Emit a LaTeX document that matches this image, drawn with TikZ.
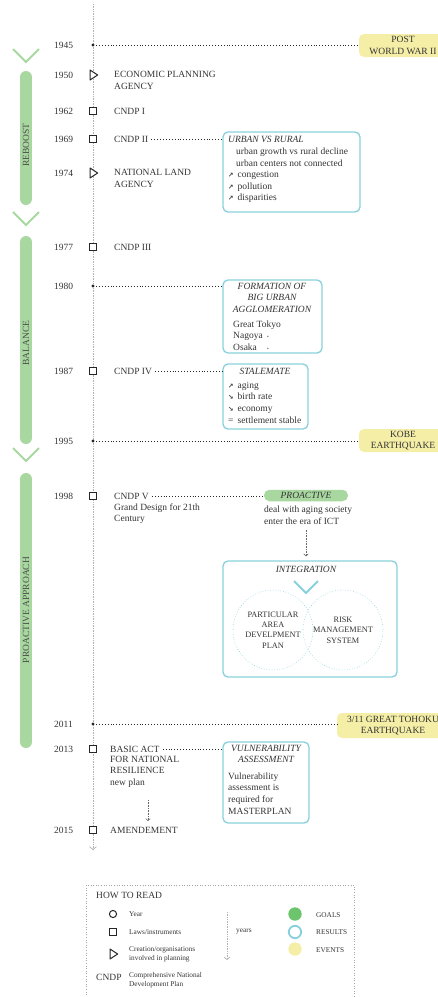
\documentclass[tikz,border=0pt]{standalone}
\usepackage{fontspec}
\setmainfont{Liberation Serif}
\newfontfamily\arrowfont{DejaVu Sans}
\usetikzlibrary{arrows.meta}

\definecolor{phasegreen}{HTML}{A8D8A0}
\definecolor{goaldark}{HTML}{6CC46C}
\definecolor{resteal}{HTML}{88D1DC}
\definecolor{evtyellow}{HTML}{F4EEA6}
\definecolor{txtgray}{HTML}{333333}

\newcommand{\arrup}{\makebox[9.5pt][l]{\arrowfont\bfseries\fontsize{6.5}{7}\selectfont ↗}}
\newcommand{\arrdown}{\makebox[9.5pt][l]{\arrowfont\bfseries\fontsize{6.5}{7}\selectfont ↘}}
\newcommand{\smalldot}{{\fontsize{5}{5}\selectfont\textbullet}}

\begin{document}
\begin{tikzpicture}[x=1pt, y=-1pt, font=\fontsize{9.5}{11.6}\selectfont, text=txtgray,
    tline/.style={draw=black!30, densely dotted, line width=0.7pt},
    lead/.style={draw=black!85, dotted, line width=0.9pt, shorten <=3pt},
    leadtip/.style={draw=black!60, densely dotted, line width=0.6pt, -{Straight Barb[length=2pt,width=4.5pt]}},
    yearlbl/.style={anchor=west, inner sep=0pt},
    item/.style={anchor=west, inner sep=0pt, align=left},
    lawmark/.style={draw=black!85, fill=white, line width=1pt, minimum size=7.5pt, inner sep=0pt},
    orgmark/.style={draw=black!85, fill=white, line width=1pt, line join=round},
    resbox/.style={draw=resteal, line width=1.3pt, rounded corners=5pt, inner sep=0pt},
    restitle/.style={font=\fontsize{9.5}{11.6}\selectfont\itshape, inner sep=0pt, align=center},
    evtbox/.style={fill=evtyellow, rounded corners=5pt, inner sep=0pt, align=center},
    phasebar/.style={draw=phasegreen, line width=12pt, line cap=round},
    chevron/.style={draw=phasegreen, line width=2pt},
    phaselbl/.style={rotate=90, inner sep=0pt, text=black!70},
    legend/.style={anchor=west, inner sep=0pt, align=left, font=\fontsize{7.3}{9}\selectfont}]
    \useasboundingbox (0,0) rectangle (438,997);

    % time line
    \coordinate (ltop) at (93,4);
    \coordinate (lend) at (93,850);
    \draw[tline, -{Straight Barb[length=3pt,width=7pt]}] (ltop) -- (lend);

    \coordinate (y1945) at (93,45);
    \coordinate (y1950) at (93,75);
    \coordinate (y1962) at (93,111);
    \coordinate (y1969) at (93,139);
    \coordinate (y1974) at (93,173);
    \coordinate (y1977) at (93,247);
    \coordinate (y1980) at (93,286);
    \coordinate (y1987) at (93,371);
    \coordinate (y1995) at (93,441);
    \coordinate (y1998) at (93,496);
    \coordinate (y2011) at (93,724);
    \coordinate (y2013) at (93,749);
    \coordinate (y2015) at (93,830);

    \node[yearlbl] (t1945) at (54,45) {1945};
    \node[yearlbl] (t1950) at (54,75) {1950};
    \node[yearlbl] (t1962) at (54,111) {1962};
    \node[yearlbl] (t1969) at (54,139) {1969};
    \node[yearlbl] (t1974) at (54,173) {1974};
    \node[yearlbl] (t1977) at (54,247) {1977};
    \node[yearlbl] (t1980) at (54,286) {1980};
    \node[yearlbl] (t1987) at (54,371) {1987};
    \node[yearlbl] (t1995) at (54,441) {1995};
    \node[yearlbl] (t1998) at (54,496) {1998};
    \node[yearlbl] (t2011) at (54,724) {2011};
    \node[yearlbl] (t2013) at (54,749) {2013};
    \node[yearlbl] (t2015) at (54,830) {2015};

    % phases
    \draw[chevron] (13,49) -- (26,62) -- (39,49);
    \draw[phasebar] (26,77) -- (26,199);
    \node[phaselbl] (reboost) at (26,145) {REBOOST};
    \draw[chevron] (13,212) -- (26,225) -- (39,212);
    \draw[phasebar] (26,242) -- (26,438);
    \node[phaselbl] (balance) at (26,343) {BALANCE};
    \draw[chevron] (13,448) -- (26,461) -- (39,448);
    \draw[phasebar] (26,479) -- (26,742);
    \node[phaselbl] (proapp) at (26,610) {PROACTIVE APPROACH};

    % events
    \node[evtbox, minimum width=88pt, minimum height=23pt] (ww2) at (403,45.5) {POST\\WORLD WAR II};
    \node[evtbox, minimum width=88pt, minimum height=23pt] (kobe) at (403,440.5) {KOBE\\EARTHQUAKE};
    \node[evtbox, minimum width=112pt, minimum height=25pt] (tohoku) at (393,725.5) {3/11 GREAT TOHOKU\\EARTHQUAKE};
    \draw[lead] (y1945) -- (y1945 -| ww2.west);
    \draw[lead] (y1995) -- (y1995 -| kobe.west);
    \draw[lead] (y2011) -- (y2011 -| tohoku.west);

    % markers
    \fill[black!85] (y1945) circle (1.7);
    \draw[orgmark, shift={(y1950)}] (-3,-5) -- (4.7,0) -- (-3,5) -- cycle;
    \node[lawmark] (m1962) at (y1962) {};
    \node[lawmark] (m1969) at (y1969) {};
    \draw[orgmark, shift={(y1974)}] (-3,-5) -- (4.7,0) -- (-3,5) -- cycle;
    \node[lawmark] (m1977) at (y1977) {};
    \fill[black!85] (y1980) circle (1.7);
    \node[lawmark] (m1987) at (y1987) {};
    \fill[black!85] (y1995) circle (1.7);
    \node[lawmark] (m1998) at (y1998) {};
    \fill[black!85] (y2011) circle (1.7);
    \node[lawmark] (m2013) at (y2013) {};
    \node[lawmark] (m2015) at (y2015) {};

    % laws and agencies
    \node[item] (epa) at (114,80.5) {ECONOMIC PLANNING\\AGENCY};
    \node[item] (cndp1) at (114,111) {CNDP I};
    \node[item] (cndp2) at (114,139) {CNDP II};
    \node[item] (nla) at (114,178.5) {NATIONAL LAND\\AGENCY};
    \node[item] (cndp3) at (114,247) {CNDP III};
    \node[item] (cndp4) at (114,371) {CNDP IV};
    \node[item] (cndp5) at (114,496) {CNDP V};
    \node[item] (gd21) at (114,513.5) {Grand Design for 21th\\Century};
    \node[item] (basicact) at (110,749) {BASIC ACT};
    \node[item] (natres) at (110,771.5) {FOR NATIONAL\\RESILIENCE\\new plan};
    \node[item] (amend) at (110,830) {AMENDEMENT};
    \coordinate (plan) at (148,800);
    \coordinate (amendtop) at (148,821);
    \draw[leadtip] (plan) -- (amendtop);

    % results
    \node[resbox, minimum width=137pt, minimum height=80pt] (urban) at (291.5,172) {};
    \node[restitle, anchor=west] (urbanttl) at (228,139) {URBAN VS RURAL};
    \node[item] (urbantxt) at (228,175.5) {\hspace*{8pt}urban growth vs rural decline\\
        \hspace*{8pt}urban centers not connected\\ \arrup congestion\\ \arrup pollution\\ \arrup disparities};
    \draw[lead] (cndp2.east) -- (cndp2.east -| urban.west);

    \node[resbox, minimum width=99pt, minimum height=73pt] (formation) at (272.5,316.5) {};
    \node[restitle] (formttl) at (272,297.5) {FORMATION OF\\BIG URBAN\\AGGLOMERATION};
    \node[item] (formtxt) at (233,335.5) {Great Tokyo\\ \makebox[34pt][l]{Nagoya}\smalldot\\ \makebox[34pt][l]{Osaka}\smalldot};
    \draw[lead] (y1980) -- (y1980 -| formation.west);

    \node[resbox, minimum width=85pt, minimum height=65pt] (stalemate) at (265.5,396.5) {};
    \node[restitle] (stalettl) at (265,371) {STALEMATE};
    \node[item] (staletxt) at (228,402.5) {\arrup aging\\ \arrdown birth rate\\ \arrdown economy\\ \makebox[9.5pt][l]{=}settlement stable};
    \draw[lead] (cndp4.east) -- (cndp4.east -| stalemate.west);

    \node[fill=phasegreen, rounded corners=5.5pt, minimum width=84pt, minimum height=11.5pt, inner sep=0pt,
        font=\fontsize{9.5}{11.6}\selectfont\itshape] (proactive) at (306,495.5) {PROACTIVE};
    \node[item] (proactxt) at (264,515.5) {deal with aging society\\enter the era of ICT};
    \draw[lead] (cndp5.east) -- (cndp5.east -| proactive.west);

    \node[resbox, minimum width=174pt, minimum height=116pt] (integration) at (310,619) {};
    \node[restitle] (integttl) at (306,569) {INTEGRATION};
    \draw[resteal, line width=2pt] (294,581) -- (306,593) -- (318,581);
    \node[circle, draw=resteal, dotted, line width=0.6pt, minimum size=80pt, inner sep=0pt, align=center,
        font=\fontsize{8.3}{10.3}\selectfont] (padp) at (273,630) {PARTICULAR\\AREA\\DEVELPMENT\\PLAN};
    \node[circle, draw=resteal, dotted, line width=0.6pt, minimum size=80pt, inner sep=0pt, align=center,
        font=\fontsize{8.3}{10.3}\selectfont] (rms) at (343,630) {RISK\\MANAGEMENT\\SYSTEM};
    \draw[leadtip, shorten <=5pt, shorten >=4pt] (proactive |- proactxt.south) -- (proactive |- integration.north);

    \node[resbox, minimum width=86pt, minimum height=81pt] (vulner) at (266,782.5) {};
    \node[restitle] (vulnttl) at (266,754) {VULNERABILITY\\ASSESSMENT};
    \node[item] (vulntxt) at (228,793.5) {Vulnerability\\assessment is\\required for\\MASTERPLAN};
    \draw[lead] (basicact.east) -- (basicact.east -| vulner.west);

    % how to read
    \draw[black!35, dotted, line width=0.6pt] (86,1000) -- (86,885) -- (354,885) -- (354,1000);
    \node[anchor=west, inner sep=0pt] (howto) at (96,895) {HOW TO READ};
    \draw[black!85, line width=1pt] (113,914) circle (3.6);
    \node[legend] (lyear) at (129,914) {Year};
    \node[lawmark] (llaw) at (113,932) {};
    \node[legend] (llawtxt) at (129,932) {Laws/instruments};
    \draw[orgmark, shift={(113,954)}] (-3,-5) -- (4.7,0) -- (-3,5) -- cycle;
    \node[legend] (lorg) at (129,954.5) {Creation/organisations\\involved in planning};
    \node[anchor=west, inner sep=0pt] (lcndp) at (96,977) {CNDP};
    \node[legend] (lcndptxt) at (129,980.5) {Comprehensive National\\Development Plan};
    \coordinate (yrtop) at (227,912);
    \coordinate (yrend) at (227,960);
    \draw[tline, -{Straight Barb[length=2.5pt,width=6pt]}] (yrtop) -- (yrend);
    \node[legend] (lyears) at (236,932) {years};
    \fill[goaldark] (295,914) circle (6.7);
    \draw[resteal, line width=1.8pt] (295,932) circle (6.2);
    \fill[evtyellow] (295,949) circle (6.7);
    \node[legend] (lgoal) at (316,915) {GOALS};
    \node[legend] (lres) at (316,932) {RESULTS};
    \node[legend] (levt) at (316,950) {EVENTS};
\end{tikzpicture}
\end{document}
